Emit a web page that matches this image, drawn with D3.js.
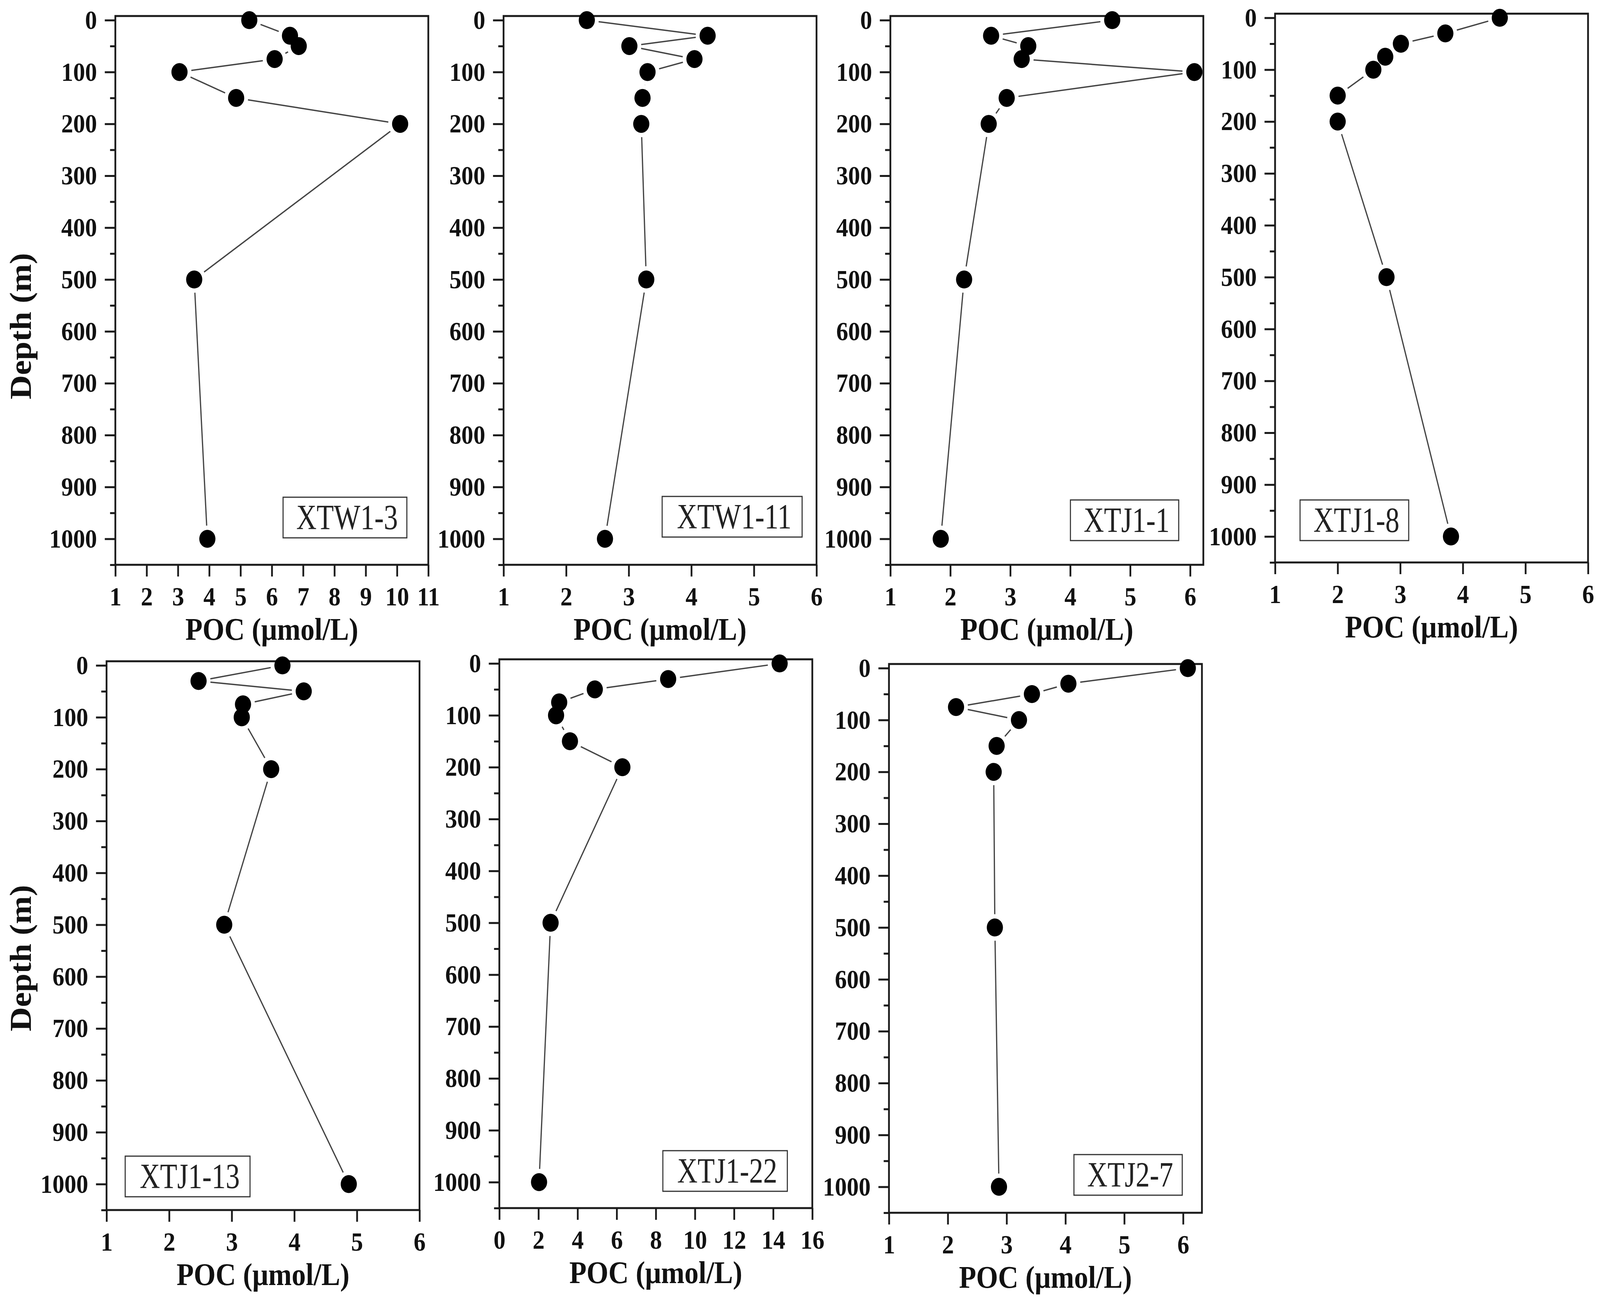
<!DOCTYPE html>
<html>
<head>
<meta charset="utf-8">
<script src="https://cdn.jsdelivr.net/npm/d3@7"></script>
<style>
  html, body { margin: 0; padding: 0; background: #fff; overflow: hidden; }
  svg { display: block; width: 100vw; height: 100vh; }
  text { font-family: "Liberation Serif", "Times New Roman", serif; }
</style>
</head>
<body>
<svg id="js_poc_profiles"></svg>
<script>
// depth (m) of the samples at each station
const depths_full = [0, 30, 50, 75, 100, 150, 200, 500, 1000]
const depths_xtj1_13 = [0, 30, 50, 75, 100, 200, 500, 1000]

const station_names = ["XTW1-3", "XTW1-11", "XTJ1-1", "XTJ1-8", "XTJ1-13", "XTJ1-22", "XTJ2-7"]

// POC (umol/L), same order as the depth arrays
const poc_xtw1_3  = [5.28, 6.58, 6.86, 6.09, 3.05, 4.86, 10.10, 3.52, 3.94]
const poc_xtw1_11 = [2.33, 4.26, 3.01, 4.05, 3.30, 3.22, 3.20, 3.28, 2.62]
const poc_xtj1_1  = [4.70, 2.68, 3.30, 3.19, 6.07, 2.94, 2.64, 2.23, 1.84]
const poc_xtj1_8  = [4.59, 3.72, 3.01, 2.76, 2.57, 2.00, 2.00, 2.78, 3.81]
const poc_xtj1_13 = [3.81, 2.47, 4.15, 3.18, 3.16, 3.63, 2.88, 4.87]
const poc_xtj1_22 = [14.33, 8.63, 4.88, 3.06, 2.90, 3.61, 6.29, 2.62, 2.03]
const poc_xtj2_7  = [6.08, 4.05, 3.43, 2.14, 3.21, 2.83, 2.78, 2.80, 2.87]

// tick labels
const depth_ticks = [0, 100, 200, 300, 400, 500, 600, 700, 800, 900, 1000]
const depth_minor_ticks = [50, 150, 250, 350, 450, 550, 650, 750, 850, 950, 1050]
const poc_ticks_1_11 = [1, 2, 3, 4, 5, 6, 7, 8, 9, 10, 11]
const poc_ticks_1_6 = [1, 2, 3, 4, 5, 6]
const poc_ticks_0_16 = [0, 2, 4, 6, 8, 10, 12, 14, 16]

const x_title = "POC (μmol/L)"
const y_title = "Depth (m)"

const width = 4550, height = 3336
const plot_w = 890, plot_h = 1405

window.onload = function() {
  // fill the whole viewport, whatever its size
  let svg = d3.select("#js_poc_profiles")
    .attr("viewBox", `0 0 ${width} ${height}`)
    .attr("preserveAspectRatio", "none")
  svg.append("rect").attr("width", width).attr("height", height).attr("fill", "#fff")

  let panels = [
    {name: station_names[0], depth: depths_full, poc: poc_xtw1_3, left: 328, top: 41, x_domain: [1, 11], x_ticks: poc_ticks_1_11, box: [477, 1232, 352], y_title: 835},
    {name: station_names[1], depth: depths_full, poc: poc_xtw1_11, left: 1432, top: 41, x_domain: [1, 6], x_ticks: poc_ticks_1_6, box: [451, 1230, 398]},
    {name: station_names[2], depth: depths_full, poc: poc_xtj1_1, left: 2532, top: 41, x_domain: [1, 6.22], x_ticks: poc_ticks_1_6, box: [512, 1239, 308]},
    {name: station_names[3], depth: depths_full, poc: poc_xtj1_8, left: 3626, top: 35, x_domain: [1, 6], x_ticks: poc_ticks_1_6, box: [71, 1245, 309]},
    {name: station_names[4], depth: depths_xtj1_13, poc: poc_xtj1_13, left: 303, top: 1693, x_domain: [1, 6], x_ticks: poc_ticks_1_6, box: [53, 1267, 355], y_title: 2453},
    {name: station_names[5], depth: depths_full, poc: poc_xtj1_22, left: 1420, top: 1688, x_domain: [0, 16], x_ticks: poc_ticks_0_16, box: [465, 1258, 354]},
    {name: station_names[6], depth: depths_full, poc: poc_xtj2_7, left: 2528, top: 1700, x_domain: [1, 6.32], x_ticks: poc_ticks_1_6, box: [526, 1256, 308]},
  ]

  panels.forEach(p => render_panel(svg, p))
}

function render_panel(svg, p) {
  let g = svg.append("g").attr("transform", `translate(${p.left},${p.top})`)

  let x = d3.scaleLinear().domain(p.x_domain).range([0, plot_w])
  let y = d3.scaleLinear().domain([-8, 1050]).range([0, plot_h])

  let points = p.depth.map((d, i) => ({depth: d, poc: p.poc[i]}))

  let line = d3.line().x(d => x(d.poc)).y(d => y(d.depth))

  g.append("path")
    .datum(points)
    .attr("d", line)
    .attr("fill", "none")
    .attr("stroke", "#444")
    .attr("stroke-width", 3.5)

  // white gaps round the symbols, like Origin draws them
  g.append("g").selectAll("circle")
    .data(points)
    .join("circle")
    .attr("cx", d => x(d.poc))
    .attr("cy", d => y(d.depth))
    .attr("r", 34)
    .attr("fill", "#fff")

  // minor + major ticks
  let y_minor = g.append("g").call(d3.axisLeft(y).tickValues(depth_minor_ticks).tickSize(15).tickFormat(""))
  let y_major = g.append("g").call(d3.axisLeft(y).tickValues(depth_ticks).tickSize(30).tickPadding(22).tickFormat(d3.format("d")))
  let x_major = g.append("g").attr("transform", `translate(0,${plot_h})`)
    .call(d3.axisBottom(x).tickValues(p.x_ticks).tickSize(30).tickPadding(26).tickFormat(d3.format("d")))

  ;[y_minor, y_major, x_major].forEach(a => {
    a.select(".domain").remove()
    a.selectAll("line").attr("stroke", "#1a1a1a").attr("stroke-width", 5)
    a.selectAll("text")
      .attr("fill", "#111")
      .attr("font-size", 68)
      .attr("font-weight", "bold")
      .attr("font-family", '"Liberation Serif", "Times New Roman", serif')
  })

  g.append("rect")
    .attr("width", plot_w)
    .attr("height", plot_h)
    .attr("fill", "none")
    .attr("stroke", "#1a1a1a")
    .attr("stroke-width", 5)

  g.append("g").selectAll("circle")
    .data(points)
    .join("circle")
    .attr("cx", d => x(d.poc))
    .attr("cy", d => y(d.depth))
    .attr("r", 23)
    .attr("fill", "#000")

  render_box(g, p.name, p.box)

  g.append("text")
    .text(x_title)
    .attr("x", plot_w / 2)
    .attr("y", plot_h + 192)
    .attr("text-anchor", "middle")
    .attr("font-size", 80)
    .attr("font-weight", "bold")
    .attr("fill", "#111")

  if (p.y_title) {
    svg.append("text")
      .text(y_title)
      .attr("transform", `translate(88,${p.y_title}) rotate(-90)`)
      .attr("text-anchor", "middle")
      .attr("font-size", 86)
      .attr("font-weight", "bold")
      .attr("fill", "#111")
  }
}

function render_box(g, name, box) {
  let [bx, by, bw] = box
  let bh = 104
  g.append("rect")
    .attr("x", bx)
    .attr("y", by)
    .attr("width", bw)
    .attr("height", bh)
    .attr("fill", "#fff")
    .attr("stroke", "#333")
    .attr("stroke-width", 3)

  g.append("text")
    .text(name)
    .attr("transform", `translate(${bx + bw / 2 + 6},${by + 82}) scale(1,1.15)`)
    .attr("text-anchor", "middle")
    .attr("font-size", 80)
    .attr("fill", "#222")
}
</script>
</body>
</html>
